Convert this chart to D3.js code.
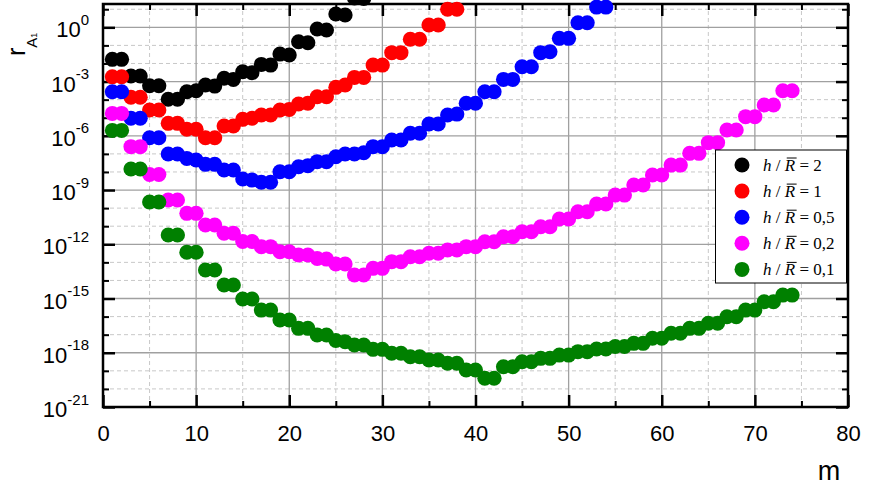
<!DOCTYPE html>
<html>
<head>
<meta charset="utf-8">
<script src="https://cdn.jsdelivr.net/npm/d3@7/dist/d3.min.js"></script>
<style>
  body { margin: 0; background: #fff; }
  text { font-family: "Liberation Sans", Arial, sans-serif; }
</style>
</head>
<body>
<svg id="chart" width="869" height="492"></svg>
<script>
// log10(r_A1), one value per m = 1, 2, 3, ...
const logR_2 = [-1.77, -1.77, -2.69, -2.69, -3.23, -3.23, -3.98, -3.98, -3.56, -3.51,
  -3.19, -3.25, -2.82, -2.88, -2.46, -2.51, -2.05, -2.09, -1.48, -1.53,
  -0.80, -0.85, -0.09, -0.15, 0.74, 0.68, 1.62, 1.60];

const logR_1 = [-2.73, -2.73, -3.87, -3.87, -4.57, -4.57, -5.31, -5.31, -5.64, -5.64,
  -6.11, -6.11, -5.46, -5.46, -5.09, -5.03, -4.85, -4.85, -4.57, -4.54,
  -4.24, -4.20, -3.84, -3.84, -3.32, -3.19, -2.77, -2.77, -2.09, -2.09,
  -1.40, -1.40, -0.66, -0.66, 0.13, 0.13, 1.00, 1.00];

const logR_05 = [-3.56, -3.56, -5.03, -5.03, -6.11, -6.11, -7.01, -7.01, -7.25, -7.34,
  -7.58, -7.58, -7.89, -7.89, -8.39, -8.45, -8.57, -8.57, -7.99, -7.99,
  -7.71, -7.65, -7.43, -7.43, -7.16, -7.01, -7.01, -6.94, -6.60, -6.60,
  -6.23, -6.23, -5.86, -5.86, -5.35, -5.35, -4.85, -4.80, -4.20, -4.20,
  -3.56, -3.56, -2.88, -2.88, -2.18, -2.18, -1.40, -1.35, -0.61, -0.61,
  0.25, 0.25, 1.12, 1.12];

const logR_02 = [-4.76, -4.76, -6.60, -6.60, -8.14, -8.14, -9.55, -9.55, -10.29, -10.29,
  -10.93, -10.93, -11.39, -11.39, -11.85, -11.85, -12.13, -12.13, -12.41, -12.41,
  -12.59, -12.59, -12.78, -12.82, -13.09, -13.09, -13.70, -13.70, -13.33, -13.33,
  -12.96, -12.96, -12.69, -12.69, -12.50, -12.50, -12.32, -12.32, -12.13, -12.13,
  -11.86, -11.86, -11.58, -11.58, -11.31, -11.31, -11.03, -11.03, -10.60, -10.60,
  -10.20, -10.20, -9.77, -9.77, -9.28, -9.28, -8.72, -8.72, -8.17, -8.17,
  -7.62, -7.62, -6.97, -6.97, -6.38, -6.38, -5.68, -5.68, -4.94, -4.94,
  -4.30, -4.30, -3.51, -3.51];

const logR_01 = [-5.70, -5.70, -7.84, -7.84, -9.66, -9.66, -11.49, -11.49, -12.44, -12.44,
  -13.42, -13.42, -14.25, -14.25, -15.03, -15.03, -15.64, -15.64, -16.19, -16.19,
  -16.65, -16.65, -17.02, -17.02, -17.32, -17.39, -17.57, -17.57, -17.81, -17.81,
  -18.03, -18.03, -18.22, -18.22, -18.40, -18.40, -18.58, -18.58, -18.95, -18.95,
  -19.41, -19.41, -18.77, -18.77, -18.50, -18.50, -18.31, -18.31, -18.13, -18.13,
  -17.94, -17.94, -17.79, -17.79, -17.65, -17.65, -17.48, -17.48, -17.20, -17.20,
  -16.92, -16.92, -16.65, -16.65, -16.37, -16.37, -16.01, -16.01, -15.64, -15.64,
  -15.18, -15.18, -14.81, -14.81];

const ratioLabels = ["2", "1", "0,5", "0,2", "0,1"];
const seriesColors = ["#000000", "#ff0000", "#0000ff", "#ff00ff", "#008000"];
const allSeries = [logR_2, logR_1, logR_05, logR_02, logR_01];

const xMajor = [0, 10, 20, 30, 40, 50, 60, 70, 80];
const xMinor = [5, 15, 25, 35, 45, 55, 65, 75];
const yMajorExp = [-21, -18, -15, -12, -9, -6, -3, 0];
const yMinorExp = [-20, -19, -17, -16, -14, -13, -11, -10, -8, -7, -5, -4, -2, -1, 1];

const svg = d3.select("#chart");

const pLeft = 103, pRight = 848, pTop = 4, pBottom = 407;
const x = d3.scaleLinear().domain([0, 80]).range([pLeft, pRight]);
const y = d3.scaleLog().domain([1e-21, Math.pow(10, 1.29)]).range([pBottom, pTop]);

/* ---------- grid ---------- */
const grid = svg.append("g");
grid.selectAll("line.vminor").data(xMinor).enter().append("line")
  .attr("x1", d => x(d)).attr("x2", d => x(d)).attr("y1", pTop).attr("y2", pBottom)
  .attr("stroke", "#c8c8c8").attr("stroke-width", 1).attr("stroke-dasharray", "4,3");
grid.selectAll("line.hminor").data(yMinorExp).enter().append("line")
  .attr("x1", pLeft).attr("x2", pRight)
  .attr("y1", d => y(Math.pow(10, d))).attr("y2", d => y(Math.pow(10, d)))
  .attr("stroke", "#c8c8c8").attr("stroke-width", 1).attr("stroke-dasharray", "4,3");
grid.selectAll("line.vmajor").data(xMajor.slice(1, -1)).enter().append("line")
  .attr("x1", d => x(d)).attr("x2", d => x(d)).attr("y1", pTop).attr("y2", pBottom)
  .attr("stroke", "#a0a0a0").attr("stroke-width", 1.3);
grid.selectAll("line.hmajor").data(yMajorExp.slice(1)).enter().append("line")
  .attr("x1", pLeft).attr("x2", pRight)
  .attr("y1", d => y(Math.pow(10, d))).attr("y2", d => y(Math.pow(10, d)))
  .attr("stroke", "#a0a0a0").attr("stroke-width", 1.3);

/* ---------- axes (ticks point inward) ---------- */
function styleAxis(g) {
  g.select(".domain").remove();
  g.selectAll("line").attr("stroke", "#000");
}
const yMajVals = yMajorExp.map(e => Math.pow(10, e));
const yMinVals = yMinorExp.map(e => Math.pow(10, e));

svg.append("g").attr("transform", `translate(0,${pBottom})`)
  .call(d3.axisBottom(x).tickValues(xMajor).tickSize(-12).tickPadding(18).tickFormat(d3.format("d")))
  .call(styleAxis)
  .call(g => g.selectAll("line").attr("stroke-width", 2.5))
  .call(g => g.selectAll("text").attr("font-size", 22).attr("fill", "#000"));
svg.append("g").attr("transform", `translate(0,${pBottom})`)
  .call(d3.axisBottom(x).tickValues(xMinor).tickSize(-6).tickFormat(""))
  .call(styleAxis).call(g => g.selectAll("line").attr("stroke-width", 2));
svg.append("g").attr("transform", `translate(0,${pTop})`)
  .call(d3.axisTop(x).tickValues(xMajor).tickSize(-12).tickFormat(""))
  .call(styleAxis).call(g => g.selectAll("line").attr("stroke-width", 2.5));
svg.append("g").attr("transform", `translate(0,${pTop})`)
  .call(d3.axisTop(x).tickValues(xMinor).tickSize(-6).tickFormat(""))
  .call(styleAxis).call(g => g.selectAll("line").attr("stroke-width", 2));

svg.append("g").attr("transform", `translate(${pLeft},0)`)
  .call(d3.axisLeft(y).tickValues(yMajVals).tickSize(-12).tickFormat(""))
  .call(styleAxis).call(g => g.selectAll("line").attr("stroke-width", 2.5));
svg.append("g").attr("transform", `translate(${pLeft},0)`)
  .call(d3.axisLeft(y).tickValues(yMinVals).tickSize(-6).tickFormat(""))
  .call(styleAxis).call(g => g.selectAll("line").attr("stroke-width", 2));
svg.append("g").attr("transform", `translate(${pRight},0)`)
  .call(d3.axisRight(y).tickValues(yMajVals).tickSize(-12).tickFormat(""))
  .call(styleAxis).call(g => g.selectAll("line").attr("stroke-width", 2.5));
svg.append("g").attr("transform", `translate(${pRight},0)`)
  .call(d3.axisRight(y).tickValues(yMinVals).tickSize(-6).tickFormat(""))
  .call(styleAxis).call(g => g.selectAll("line").attr("stroke-width", 2));

// y tick labels 10^n
const yLab = svg.append("g").selectAll("text").data(yMajorExp).enter().append("text")
  .attr("x", 89).attr("y", d => y(Math.pow(10, d)) + 10)
  .attr("text-anchor", "end").attr("font-size", 22).attr("fill", "#000");
yLab.append("tspan").text("10");
yLab.append("tspan").attr("dy", -12.5).attr("font-size", 15).text(d => d === 0 ? "0" : "-" + Math.abs(d));

// frame
svg.append("rect").attr("x", pLeft).attr("y", pTop)
  .attr("width", pRight - pLeft).attr("height", pBottom - pTop)
  .attr("fill", "none").attr("stroke", "#000").attr("stroke-width", 2.5);

/* ---------- points ---------- */
allSeries.forEach((vals, i) => {
  svg.append("g").selectAll("circle")
    .data(vals.map((v, k) => ({ m: k + 1, r: Math.pow(10, v) })))
    .enter().append("circle")
    .attr("cx", d => x(d.m))
    .attr("cy", d => y(d.r))
    .attr("r", 7.5)
    .attr("fill", seriesColors[i]);
});

/* ---------- axis titles ---------- */
svg.append("text").attr("x", 829).attr("y", 480).attr("text-anchor", "middle")
  .attr("font-size", 27).attr("fill", "#000").text("m");

const yt = svg.append("text").attr("transform", "translate(25,56) rotate(-90)")
  .attr("font-size", 25).attr("fill", "#000");
yt.append("tspan").text("r");
yt.append("tspan").attr("dy", 12).attr("font-size", 15).text("A");
yt.append("tspan").attr("font-size", 9).text("1");

/* ---------- legend ---------- */
const lg = svg.append("g");
lg.append("rect").attr("x", 715.5).attr("y", 150).attr("width", 131).attr("height", 133)
  .attr("fill", "#fff").attr("stroke", "#000").attr("stroke-width", 1);
ratioLabels.forEach((lab, i) => {
  const cy = 165 + i * 26.1;
  lg.append("circle").attr("cx", 742).attr("cy", cy).attr("r", 7.5).attr("fill", seriesColors[i]);
  const t = lg.append("text").attr("x", 763).attr("y", cy + 6)
    .attr("font-size", 17).attr("fill", "#000")
    .style("font-family", "'Liberation Serif', 'Times New Roman', serif")
    .style("white-space", "pre");
  t.append("tspan").attr("font-style", "italic").text("h");
  t.append("tspan").text(" / ");
  t.append("tspan").attr("font-style", "italic").text("R");
  t.append("tspan").text(" = " + lab);
  const e = t.node().getExtentOfChar(4);
  lg.append("line")
    .attr("x1", e.x + 2).attr("x2", e.x + e.width + 1.5)
    .attr("y1", e.y + 2).attr("y2", e.y + 2)
    .attr("stroke", "#000").attr("stroke-width", 1);
});
</script>
</body>
</html>
